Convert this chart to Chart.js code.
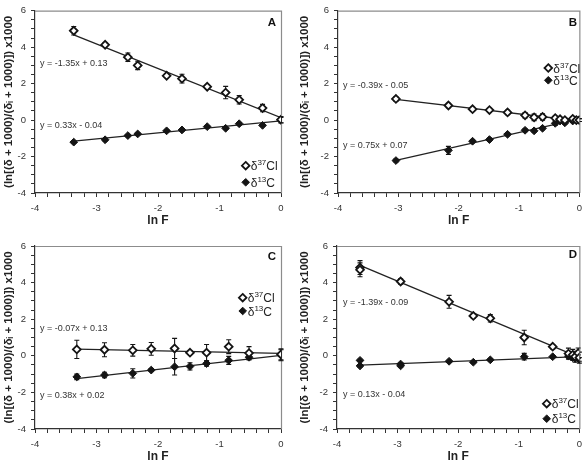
<!DOCTYPE html>
<html><head><meta charset="utf-8">
<script src="https://cdn.jsdelivr.net/npm/chart.js@4.4.0/dist/chart.umd.min.js"></script>
<style>
html,body{margin:0;padding:0;background:#fff;width:588px;height:466px;overflow:hidden;}
canvas{position:absolute;}
</style></head><body>
<canvas id="pA" width="294" height="233" style="left:0px;top:0px"></canvas>
<canvas id="pB" width="294" height="233" style="left:294px;top:0px"></canvas>
<canvas id="pC" width="294" height="233" style="left:0px;top:233px"></canvas>
<canvas id="pD" width="294" height="233" style="left:294px;top:233px"></canvas>
<script>
// ---------- DATA ----------
const panelLetters = ['A', 'B', 'C', 'D'];
const seriesCl = ['δ', '37', 'Cl'];
const seriesC = ['δ', '13', 'C'];
const xTitle = 'ln F';
const yTitle = '(ln[(δ + 1000)/(δᵢ + 1000)]) x1000';
const xTickValues = [-4, -3, -2, -1, 0];
const yTickValues = [-4, -2, 0, 2, 4, 6];

// Panel A
const lnF_A = [-3.37, -2.86, -2.49, -2.33, -1.86, -1.61, -1.20, -0.90, -0.68, -0.30, 0];
const cl_A = [4.90, 4.13, 3.45, 3.00, 2.43, 2.27, 1.83, 1.51, 1.11, 0.66, 0.02];
const clErr_A = [0.23, 0.11, 0.23, 0.23, 0.08, 0.24, 0.08, 0.34, 0.23, 0.20, 0.18];
const c_A = [-1.21, -1.08, -0.85, -0.76, -0.59, -0.54, -0.36, -0.45, -0.20, -0.29, 0.0];
const cErr_A = [0.06, 0.06, 0.06, 0.06, 0.06, 0.06, 0.06, 0.06, 0.06, 0.06, 0.15];
const fitCl_A = [-1.35, 0.13];
const fitC_A = [0.33, -0.04];

// Panel B
const lnF_B = [-3.04, -2.17, -1.77, -1.49, -1.19, -0.90, -0.75, -0.61, -0.40, -0.32, -0.24, -0.11, -0.05, 0];
const cl_B = [1.16, 0.80, 0.60, 0.55, 0.42, 0.26, 0.15, 0.17, 0.11, 0.05, 0.0, 0.07, 0.0, 0.0];
const clErr_B = [0.12, 0.12, 0.10, 0.10, 0.12, 0.15, 0.18, 0.18, 0.10, 0.10, 0.10, 0.10, 0.10, 0.08];
const c_B = [-2.22, -1.66, -1.16, -1.07, -0.78, -0.56, -0.59, -0.45, -0.18, -0.05, -0.15, -0.05, 0.0, 0.0];
const cErr_B = [0.08, 0.22, 0.08, 0.08, 0.08, 0.08, 0.08, 0.08, 0.12, 0.10, 0.08, 0.08, 0.08, 0.08];
const fitCl_B = [-0.39, -0.05];
const fitC_B = [0.75, 0.07];

// Panel C
const lnF_C = [-3.32, -2.87, -2.41, -2.11, -1.73, -1.48, -1.21, -0.85, -0.52, 0];
const cl_C = [0.35, 0.33, 0.30, 0.38, 0.40, 0.17, 0.17, 0.50, 0.15, 0.08];
const clErr_C = [0.50, 0.38, 0.32, 0.35, 0.55, 0.10, 0.45, 0.38, 0.35, 0.30];
const c_C = [-1.15, -1.05, -0.96, -0.78, -0.60, -0.58, -0.42, -0.25, -0.08, 0.03];
const cErr_C = [0.15, 0.15, 0.25, 0.08, 0.45, 0.20, 0.15, 0.22, 0.15, 0.30];
const fitCl_C = [-0.07, 0.13];
const fitC_C = [0.38, 0.02];

// Panel D
const lnFCl_D = [-3.62, -3.62, -2.95, -2.15, -1.75, -1.47, -0.91, -0.44, -0.18, -0.11, -0.07, -0.02, 0];
const cl_D = [4.82, 4.70, 4.06, 2.95, 2.18, 2.05, 1.00, 0.50, 0.12, 0.05, -0.05, 0.15, -0.10];
const clErr_D = [0.38, 0.38, 0.15, 0.35, 0.12, 0.20, 0.40, 0.12, 0.30, 0.30, 0.30, 0.28, 0.30];
const lnFC_D = [-3.62, -3.62, -2.95, -2.95, -2.15, -1.75, -1.47, -0.91, -0.44, -0.18, -0.11, -0.07, -0.02, 0];
const c_D = [-0.25, -0.55, -0.45, -0.55, -0.30, -0.35, -0.22, -0.05, -0.05, -0.02, -0.10, -0.15, -0.05, -0.20];
const cErr_D = [0.06, 0.06, 0.06, 0.06, 0.06, 0.06, 0.06, 0.18, 0.06, 0.10, 0.10, 0.10, 0.10, 0.10];
const fitCl_D = [-1.39, -0.09];
const fitC_D = [0.13, -0.04];

// ---------- RENDER ----------
const FAM = '"Liberation Sans", Arial, Helvetica, sans-serif';
const INK = '#141414';

function pts(xs, ys) { return xs.map((x, i) => ({ x: x, y: ys[i] })); }
function fitPts(xs, fit) {
  const x0 = Math.min.apply(null, xs), x1 = Math.max.apply(null, xs);
  return [{ x: x0, y: fit[0] * x0 + fit[1] }, { x: x1, y: fit[0] * x1 + fit[1] }];
}
function eqText(fit) {
  const b = fit[1];
  return 'y = ' + fit[0].toFixed(2) + 'x ' + (b < 0 ? '- ' : '+ ') + Math.abs(b).toFixed(2);
}
function isAt(v, list) { return list.some(t => Math.abs(t - v) < 1e-6); }

function diamond(ctx, x, y, r, filled) {
  ctx.beginPath();
  ctx.moveTo(x, y - r); ctx.lineTo(x + r, y); ctx.lineTo(x, y + r); ctx.lineTo(x - r, y); ctx.closePath();
  ctx.fillStyle = filled ? INK : '#fff';
  ctx.fill();
  ctx.lineWidth = filled ? 1 : 1.8;
  ctx.strokeStyle = INK;
  ctx.stroke();
}
function legendItem(ctx, x, y, parts, filled) {
  diamond(ctx, x, y, 3.8, filled);
  ctx.fillStyle = '#222';
  ctx.textAlign = 'left';
  ctx.textBaseline = 'alphabetic';
  let tx = x + 5;
  const base = y + 4.5;
  ctx.font = '12px ' + FAM; ctx.fillText(parts[0], tx, base); tx += ctx.measureText(parts[0]).width;
  ctx.font = '8px ' + FAM; ctx.fillText(parts[1], tx, base - 5); tx += ctx.measureText(parts[1]).width;
  ctx.font = '12px ' + FAM; ctx.fillText(parts[2], tx, base);
}

function panel(g) {
  const W = 294, H = 233;
  const deco = {
    id: 'deco',
    beforeDatasetsDraw(chart) {
      const ctx = chart.ctx, a = chart.chartArea, xs = chart.scales.x, ys = chart.scales.y;
      ctx.save();
      // top/right frame
      ctx.strokeStyle = '#8c8c8c'; ctx.lineWidth = 1.2;
      ctx.beginPath();
      ctx.moveTo(a.left, a.top + 0.5); ctx.lineTo(a.right + 0.5, a.top + 0.5); ctx.lineTo(a.right + 0.5, a.bottom);
      ctx.stroke();
      // error bars
      ctx.strokeStyle = INK; ctx.lineWidth = 1.1;
      [[g.xCl, g.cl, g.clErr], [g.xC, g.c, g.cErr]].forEach(s => {
        s[0].forEach((xv, i) => {
          const px = xs.getPixelForValue(xv);
          const p1 = ys.getPixelForValue(s[1][i] + s[2][i]);
          const p2 = ys.getPixelForValue(s[1][i] - s[2][i]);
          ctx.beginPath();
          ctx.moveTo(px, p1); ctx.lineTo(px, p2);
          ctx.moveTo(px - 2.5, p1); ctx.lineTo(px + 2.5, p1);
          ctx.moveTo(px - 2.5, p2); ctx.lineTo(px + 2.5, p2);
          ctx.stroke();
        });
      });
      ctx.restore();
    },
    afterDraw(chart) {
      const ctx = chart.ctx;
      ctx.save();
      ctx.fillStyle = '#333';
      ctx.font = '9px ' + FAM;
      ctx.textAlign = 'left'; ctx.textBaseline = 'middle';
      ctx.fillText(eqText(g.fitCl), g.eq1[0], g.eq1[1]);
      ctx.fillText(eqText(g.fitC), g.eq2[0], g.eq2[1]);
      ctx.fillStyle = '#111';
      ctx.font = 'bold 11.5px ' + FAM;
      ctx.textAlign = 'center';
      ctx.fillText(g.letter, g.letterPos[0], g.letterPos[1]);
      legendItem(ctx, g.leg[0], g.leg[1], seriesCl, false);
      legendItem(ctx, g.leg[0], g.leg[2], seriesC, true);
      ctx.restore();
    }
  };
  new Chart(document.getElementById(g.id), {
    type: 'scatter',
    data: {
      datasets: [
        { data: fitPts(g.xCl, g.fitCl), showLine: true, pointRadius: 0, borderColor: '#222', borderWidth: 1.3, order: 3 },
        { data: fitPts(g.xC, g.fitC), showLine: true, pointRadius: 0, borderColor: '#222', borderWidth: 1.3, order: 3 },
        { label: 'δ37Cl', data: pts(g.xCl, g.cl), pointStyle: 'rectRot', pointRadius: 3.9, backgroundColor: '#fff', borderColor: INK, borderWidth: 1.8, order: 1 },
        { label: 'δ13C', data: pts(g.xC, g.c), pointStyle: 'rectRot', pointRadius: 3.9, backgroundColor: INK, borderColor: INK, borderWidth: 1, order: 1 }
      ]
    },
    options: {
      responsive: false, animation: false, devicePixelRatio: 1,
      layout: { padding: { top: g.top, right: W - g.right, left: 0, bottom: 0 } },
      plugins: { legend: { display: false }, tooltip: { enabled: false } },
      scales: {
        x: {
          type: 'linear', min: -4, max: 0,
          afterFit(s) { s.height = H - g.bottom; },
          ticks: {
            stepSize: 0.2, autoSkip: false, maxTicksLimit: 100, maxRotation: 0,
            callback: v => isAt(v, xTickValues) ? String(Math.round(v)) : '',
            font: { family: FAM, size: 9.5 }, color: '#333', padding: 6
          },
          grid: { drawOnChartArea: false, tickLength: 4, tickColor: '#333', tickWidth: 1 },
          border: { color: '#333', width: 1.2 },
          title: { display: true, text: xTitle, color: '#222', font: { family: FAM, size: 12, weight: 'bold' }, padding: { top: 0, bottom: g.xtp } }
        },
        y: {
          type: 'linear', min: -4, max: 6,
          afterFit(s) { s.width = g.left; },
          ticks: {
            stepSize: 0.5, autoSkip: false, maxTicksLimit: 100,
            callback: v => isAt(v, yTickValues) ? String(Math.round(v)) : '',
            font: { family: FAM, size: 9.5 }, color: '#333', padding: 5
          },
          grid: { drawOnChartArea: false, tickLength: 4, tickColor: '#333', tickWidth: 1 },
          border: { color: '#333', width: 1.2 },
          title: { display: true, text: yTitle, color: '#222', font: { family: FAM, size: 11.5, weight: 'bold' }, padding: { top: g.ytp, bottom: 0 } }
        }
      }
    },
    plugins: [deco]
  });
}

panel({ id: 'pA', left: 35, right: 281, top: 9, bottom: 193, ytp: 2, xtp: 5,
  xCl: lnF_A, cl: cl_A, clErr: clErr_A, xC: lnF_A, c: c_A, cErr: cErr_A, fitCl: fitCl_A, fitC: fitC_A,
  eq1: [40, 64], eq2: [40, 126], letter: panelLetters[0], letterPos: [272, 23], leg: [245.7, 165.7, 182.3] });
panel({ id: 'pB', left: 44, right: 289, top: 9, bottom: 193, ytp: 4, xtp: 5,
  xCl: lnF_B, cl: cl_B, clErr: clErr_B, xC: lnF_B, c: c_B, cErr: cErr_B, fitCl: fitCl_B, fitC: fitC_B,
  eq1: [49, 86], eq2: [49, 146], letter: panelLetters[1], letterPos: [279, 23], leg: [254.3, 68, 80.3] });
panel({ id: 'pC', left: 35, right: 281, top: 13, bottom: 196, ytp: 2, xtp: 2,
  xCl: lnF_C, cl: cl_C, clErr: clErr_C, xC: lnF_C, c: c_C, cErr: cErr_C, fitCl: fitCl_C, fitC: fitC_C,
  eq1: [40, 96], eq2: [40, 163], letter: panelLetters[2], letterPos: [272, 24], leg: [242.7, 64.7, 78] });
panel({ id: 'pD', left: 43, right: 289, top: 13, bottom: 196, ytp: 4, xtp: 2,
  xCl: lnFCl_D, cl: cl_D, clErr: clErr_D, xC: lnFC_D, c: c_D, cErr: cErr_D, fitCl: fitCl_D, fitC: fitC_D,
  eq1: [49, 70], eq2: [49, 162], letter: panelLetters[3], letterPos: [279, 22], leg: [252.7, 170.7, 185.7] });
</script>
</body></html>
